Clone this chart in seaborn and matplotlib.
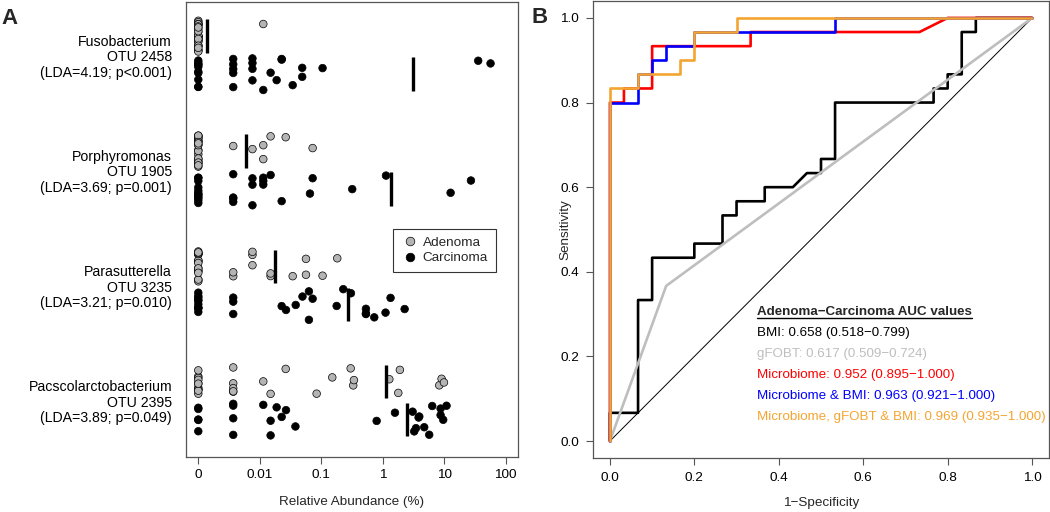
import numpy as np
import pandas as pd
import matplotlib
matplotlib.use("Agg")
import matplotlib.pyplot as plt
from matplotlib.lines import Line2D
import seaborn as sns

# ---- panel A: relative abundance (%) per sample, 0 = not detected ----
otu_labels = [
    "Fusobacterium\nOTU 2458\n(LDA=4.19; p<0.001)",
    "Porphyromonas\nOTU 1905\n(LDA=3.69; p=0.001)",
    "Parasutterella\nOTU 3235\n(LDA=3.21; p=0.010)",
    "Pacscolarctobacterium\nOTU 2395\n(LDA=3.89; p=0.049)",
]
groups = ["Adenoma", "Carcinoma"]

fuso_adenoma = [0, 0, 0, 0, 0, 0, 0, 0, 0, 0, 0, 0, 0, 0, 0, 0, 0, 0, 0, 0,
                0, 0, 0, 0, 0, 0, 0, 0, 0, 0.0114]
fuso_carcinoma = [0, 0, 0, 0, 0, 0, 0, 0, 0, 0,
                  0.0037, 0.0037, 0.0037, 0.0037, 0.0037,
                  0.0076, 0.0076, 0.0076, 0.0076,
                  0.0114, 0.015, 0.0188, 0.0227, 0.0227, 0.0343, 0.049, 0.049,
                  0.105, 35.7, 56.7]
porph_adenoma = [0, 0, 0, 0, 0, 0, 0, 0, 0, 0, 0, 0, 0, 0, 0, 0, 0, 0, 0, 0,
                 0, 0, 0, 0.0037, 0.0076, 0.0114, 0.0114, 0.015, 0.0264, 0.0724]
porph_carcinoma = [0, 0, 0, 0, 0, 0, 0, 0, 0, 0, 0, 0,
                   0.0037, 0.0037, 0.0037, 0.0037,
                   0.0076, 0.0076, 0.0076, 0.0114, 0.0114, 0.0114,
                   0.015, 0.0227, 0.0655, 0.0724, 0.319, 1.13, 12.7, 27.2]
para_adenoma = [0, 0, 0, 0, 0, 0, 0, 0, 0, 0, 0, 0, 0, 0, 0, 0, 0, 0,
                0.0037, 0.0037, 0.0076, 0.0076, 0.0076, 0.015, 0.015,
                0.0343, 0.0564, 0.0564, 0.105, 0.182]
para_carcinoma = [0, 0, 0, 0, 0, 0, 0, 0, 0, 0,
                  0.0037, 0.0037, 0.0037,
                  0.0227, 0.0267, 0.0384, 0.0495, 0.063, 0.063, 0.0724, 0.178,
                  0.228, 0.304, 0.533, 0.533, 0.533, 0.728, 1.11, 1.34, 2.27]
pacs_adenoma = [0, 0, 0, 0, 0, 0, 0, 0, 0, 0, 0,
                0.0037, 0.0037, 0.0037, 0.0037, 0.0037,
                0.0114, 0.015, 0.0264, 0.0841, 0.151, 0.301, 0.331, 0.34,
                1.28, 1.79, 1.9, 8.3, 9.06, 9.9]
pacs_carcinoma = [0, 0, 0, 0, 0,
                  0.0037, 0.0037, 0.0037, 0.0037,
                  0.0114, 0.015, 0.015, 0.0188, 0.0227, 0.0267, 0.038, 0.796,
                  1.58, 3.06, 3.25, 3.47, 3.83, 3.93, 4.73, 5.7, 6.38, 8.73,
                  8.73, 9.63, 10.9]

abundance = [
    (fuso_adenoma, fuso_carcinoma),
    (porph_adenoma, porph_carcinoma),
    (para_adenoma, para_carcinoma),
    (pacs_adenoma, pacs_carcinoma),
]
x_tick_vals = [0.001, 0.01, 0.1, 1, 10, 100]
x_tick_labels = ["0", "0.01", "0.1", "1", "10", "100"]

# ---- panel B: ROC curves (1-specificity, sensitivity) ----
bmi_fpr = [0, 0, 0.0667, 0.0667, 0.1, 0.1, 0.2, 0.2, 0.2667, 0.2667, 0.3, 0.3,
           0.3667, 0.3667, 0.4333, 0.4667, 0.5, 0.5, 0.5333, 0.5333, 0.7667,
           0.7667, 0.8, 0.8, 0.8333, 0.8333, 0.8667, 0.8667, 1]
bmi_tpr = [0, 0.0667, 0.0667, 0.3333, 0.3333, 0.4333, 0.4333, 0.4667, 0.4667,
           0.5333, 0.5333, 0.5667, 0.5667, 0.6, 0.6, 0.6333, 0.6333, 0.6667,
           0.6667, 0.8, 0.8, 0.8333, 0.8333, 0.8667, 0.8667, 0.9667, 0.9667,
           1, 1]
gfobt_fpr = [0, 0.1333, 1]
gfobt_tpr = [0, 0.3667, 1]
micro_fpr = [0, 0, 0.0333, 0.0333, 0.1, 0.1, 0.3333, 0.3333, 0.7333, 0.8, 1]
micro_tpr = [0, 0.8, 0.8, 0.8333, 0.8333, 0.9333, 0.9333, 0.9667, 0.9667, 1, 1]
micro_bmi_fpr = [0, 0, 0.0667, 0.0667, 0.1, 0.1, 0.1333, 0.1333, 0.2, 0.2,
                 0.5333, 0.5333, 1]
micro_bmi_tpr = [0, 0.8, 0.8, 0.8667, 0.8667, 0.9, 0.9, 0.9333, 0.9333,
                 0.9667, 0.9667, 1, 1]
all_fpr = [0, 0, 0.0667, 0.0667, 0.1667, 0.1667, 0.2, 0.2, 0.3, 0.3, 1]
all_tpr = [0, 0.8333, 0.8333, 0.8667, 0.8667, 0.9, 0.9, 0.9667, 0.9667, 1, 1]
chance = [0, 1]

auc_title = "Adenoma\u2212Carcinoma AUC values"
auc_labels = [
    "BMI: 0.658 (0.518\u22120.799)",
    "gFOBT: 0.617 (0.509\u22120.724)",
    "Microbiome: 0.952 (0.895\u22121.000)",
    "Microbiome & BMI: 0.963 (0.921\u22121.000)",
    "Microbiome, gFOBT & BMI: 0.969 (0.935\u22121.000)",
]

GRAY_PT = "#B4B4B4"
ROC_GRAY = "#BEBEBE"
ORANGE = "#F4A531"
SPINE = "#555555"
FS = 9.7
FS_ROW = 10.2
FS_AUC = 9.6

sns.set_theme(style="ticks")
plt.rcParams["font.family"] = ["Liberation Sans", "DejaVu Sans"]
plt.rcParams["font.size"] = FS
plt.rcParams["axes.edgecolor"] = SPINE
plt.rcParams["xtick.color"] = SPINE
plt.rcParams["ytick.color"] = SPINE
plt.rcParams["xtick.labelcolor"] = "black"
plt.rcParams["ytick.labelcolor"] = "black"

fig = plt.figure(figsize=(10.5, 5.12), dpi=100)
axA = fig.add_axes([186 / 1050, 1 - 457 / 512, 332 / 1050, 455 / 512])
axB = fig.add_axes([593 / 1050, 1 - 458 / 512, 456 / 1050, 457 / 512])

# ---------------- panel A ----------------
ZERO_POS = 0.001
rows = []
for i, pair in enumerate(abundance):
    for grp, vals in zip(groups, pair):
        for v in vals:
            rows.append({"row": i, "group": grp, "abund": v})
df = pd.DataFrame(rows)
rng = np.random.default_rng(11)
df["logx"] = np.log10(df["abund"].clip(lower=ZERO_POS))
offset = df["group"].map({"Adenoma": -0.165, "Carcinoma": 0.165})
df["ypos"] = df["row"] + offset + rng.uniform(-0.14, 0.14, len(df))

sns.scatterplot(data=df, x="logx", y="ypos", hue="group", hue_order=groups,
                palette={"Adenoma": GRAY_PT, "Carcinoma": "black"},
                edgecolor="black", linewidth=0.5, s=30, legend=False, ax=axA)

means = df.groupby(["row", "group"])["abund"].mean().reset_index()
means["logm"] = np.log10(means["abund"] + ZERO_POS)
means["yc"] = means["row"] + means["group"].map({"Adenoma": -0.165, "Carcinoma": 0.165})
axA.vlines(means["logm"], means["yc"] - 0.145, means["yc"] + 0.145,
           color="black", lw=2.4)

axA.set_xlim(-3.2, 2.2)
axA.set_ylim(3.49, -0.46)
axA.set_xticks(np.log10(x_tick_vals))
axA.set_xticklabels(x_tick_labels)
axA.set_yticks(range(len(otu_labels)))
axA.set_yticklabels(otu_labels, linespacing=1.13, fontsize=FS_ROW)
axA.tick_params(axis="y", length=0, pad=10)
axA.tick_params(axis="x", length=5, width=0.8, pad=4, labelsize=FS)
axA.set_xlabel("Relative Abundance (%)", fontsize=FS)
axA.xaxis.set_label_coords(0.5, -0.085)
axA.set_ylabel("")

handles = [
    Line2D([], [], marker="o", ls="", mfc=GRAY_PT, mec="black", mew=0.5, ms=6.2),
    Line2D([], [], marker="o", ls="", mfc="black", mec="black", mew=0.5, ms=6.2),
]
leg = axA.legend(handles, groups, loc="upper right", bbox_to_anchor=(0.934, 0.502),
                 frameon=True, fancybox=False, edgecolor="#333333", framealpha=1,
                 fontsize=FS, handletextpad=0.3, borderpad=0.6, handlelength=1.3,
                 labelspacing=0.2, borderaxespad=0)
leg.get_frame().set_linewidth(0.8)

# ---------------- panel B ----------------
curves = [
    (bmi_fpr, bmi_tpr, "black"),
    (gfobt_fpr, gfobt_tpr, ROC_GRAY),
    (micro_fpr, micro_tpr, "#FF0000"),
    (micro_bmi_fpr, micro_bmi_tpr, "#0000FF"),
    (all_fpr, all_tpr, ORANGE),
]
sns.lineplot(x=chance, y=chance, color="black", lw=0.7, ax=axB)
for fpr, tpr, col in curves:
    sns.lineplot(x=fpr, y=tpr, sort=False, estimator=None, color=col, lw=1.9, ax=axB)

axB.set_xlim(-0.04, 1.04)
axB.set_ylim(-0.04, 1.04)
ticks = np.arange(0, 1.01, 0.2)
axB.set_xticks(ticks)
axB.set_yticks(ticks)
axB.set_xticklabels([f"{t:.1f}" for t in ticks])
axB.set_yticklabels([f"{t:.1f}" for t in ticks])
axB.tick_params(length=5, width=0.8, pad=5, labelsize=FS)
axB.set_xlabel("1\u2212Specificity", fontsize=FS)
axB.set_ylabel("Sensitivity", fontsize=FS)
axB.xaxis.set_label_coords(0.5, -0.085)
axB.yaxis.set_label_coords(-0.047, 0.5)

text_colors = ["black", ROC_GRAY, "#FF0000", "#0000FF", ORANGE]
tx, ty, step = 0.348, 0.304, 0.0495
title = axB.text(tx, ty, auc_title, fontweight="bold", va="center", ha="left", fontsize=FS_AUC)
for k, (lab, col) in enumerate(zip(auc_labels, text_colors)):
    axB.text(tx, ty - step * (k + 1), lab, color=col, va="center", ha="left", fontsize=FS_AUC)

for ax in (axA, axB):
    for sp in ax.spines.values():
        sp.set_visible(True)
        sp.set_linewidth(0.9)
        sp.set_color(SPINE)

fig.text(0.001, 0.985, "A", fontweight="bold", fontsize=16, va="top", ha="left")
fig.text(0.506, 0.987, "B", fontweight="bold", fontsize=16, va="top", ha="left")

# underline the AUC title
fig.canvas.draw()
bb = title.get_window_extent()
inv = fig.transFigure.inverted()
(x0, y0), (x1, _) = inv.transform([[bb.x0, bb.y0], [bb.x1, bb.y0]])
fig.add_artist(Line2D([x0, x1], [y0, y0], transform=fig.transFigure, color="black", lw=1))

fig.savefig("out.png", dpi=100)
